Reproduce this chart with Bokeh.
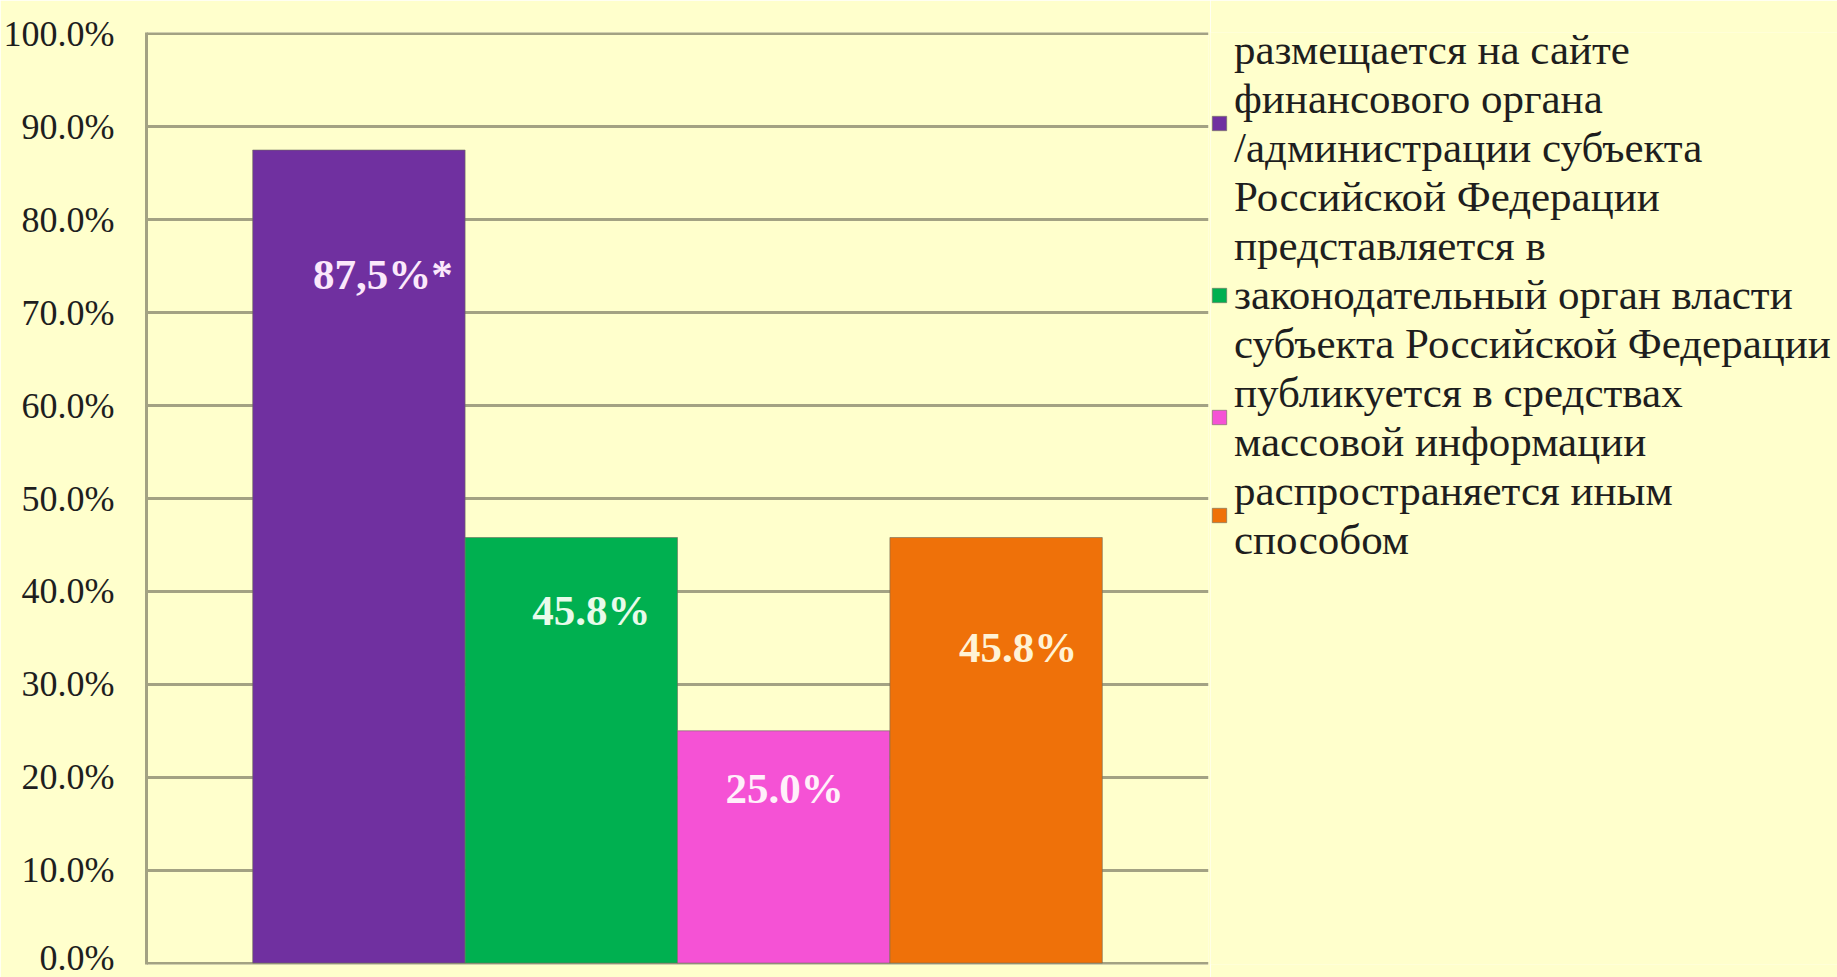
from bokeh.plotting import figure
from bokeh.layouts import row
from bokeh.models import ColumnDataSource, FixedTicker, Legend, LegendItem, Range1d
from bokeh.core.properties import value
from bokeh.embed import file_html
from bokeh.resources import INLINE

# ---- data ----
series = [
    "размещается на сайте\nфинансового органа\n/администрации субъекта\nРоссийской Федерации",
    "представляется в\nзаконодательный орган власти\nсубъекта Российской Федерации",
    "публикуется в средствах\nмассовой информации",
    "распространяется иным\nспособом",
]
values = [87.5, 45.8, 25.0, 45.8]
value_labels = ["87,5%*", "45.8%", "25.0%", "45.8%"]
colors = ["#7030A0", "#00B050", "#F552D5", "#EF7109"]
label_colors = ["#FBE8FB", "#E8FBEA", "#FFF0FA", "#FFF3D6"]
y_ticks = [0, 10, 20, 30, 40, 50, 60, 70, 80, 90, 100]
y_tick_labels = ["0.0%", "10.0%", "20.0%", "30.0%", "40.0%", "50.0%",
                 "60.0%", "70.0%", "80.0%", "90.0%", "100.0%"]

# label placement (style/layout)
label_y = [74.1, 38.0, 18.8, 34.0]
label_dx = [24, 20, 1, 22]

BG = "#FFFFCC"
GRID = "#A3A283"
FONT = "Liberation Serif"

xs = [i + 1 for i in range(len(values))]
src = ColumnDataSource(dict(x=xs, top=values, color=colors, lab=value_labels,
                            ly=label_y, dx=label_dx, lc=label_colors))

# ---- chart ----
p = figure(width=1210, height=977, output_backend="svg", toolbar_location=None,
           title=None, x_range=Range1d(0, 5), y_range=Range1d(-0.15, 100.15),
           min_border_left=143, min_border_right=2, min_border_top=32,
           min_border_bottom=13)
p.background_fill_color = BG
p.border_fill_color = BG
p.outline_line_color = None

bars = p.vbar(x="x", top="top", width=1.0, bottom=0, source=src,
              fill_color="color", line_color="#6E6E5E", line_width=1, line_alpha=0.6)

p.text(x="x", y="ly", text="lab", source=src, x_offset="dx",
       text_font=value(FONT), text_font_style="bold", text_font_size="43px",
       text_color="lc", text_align="center", text_baseline="middle")

p.xaxis.visible = False
p.yaxis.ticker = FixedTicker(ticks=y_ticks)
p.yaxis.major_label_overrides = {t: l for t, l in zip(y_ticks, y_tick_labels)}
p.yaxis.major_label_text_font = FONT
p.yaxis.major_label_text_font_size = "36px"
p.yaxis.major_label_text_color = "#1E1E1E"
p.yaxis.major_label_standoff = 26
p.yaxis.major_tick_line_color = None
p.yaxis.minor_tick_line_color = None
p.yaxis.axis_line_color = GRID
p.yaxis.axis_line_width = 3

p.xgrid.visible = False
p.ygrid.ticker = FixedTicker(ticks=y_ticks)
p.ygrid.grid_line_color = GRID
p.ygrid.grid_line_width = 3

# ---- legend panel ----
lp = figure(width=627, height=977, output_backend="svg", toolbar_location=None,
            title=None, x_range=Range1d(0, 5), y_range=Range1d(0, 100), min_border=0)
lp.background_fill_color = BG
lp.border_fill_color = BG
lp.outline_line_color = None
lp.axis.visible = False
lp.grid.visible = False
lbars = lp.vbar(x="x", top="top", width=1.0, bottom=0, source=src,
                fill_color="color", line_color="#6E6E5E", line_width=1, line_alpha=0.6)
lbars.visible = False

items = [LegendItem(label=s, renderers=[lbars], index=i) for i, s in enumerate(series)]
legend = Legend(items=items, location=(0, 400), orientation="vertical",
                glyph_width=18, glyph_height=18, label_standoff=6, spacing=0,
                padding=0, margin=0, background_fill_alpha=0, border_line_color=None,
                label_text_font=FONT, label_text_font_size="43px",
                label_text_color="#1E1E1E", label_text_line_height=1.14,
                click_policy="none")
lp.add_layout(legend, "center")

layout = row(p, lp, spacing=0)
open("out.html", "w").write(file_html(layout, INLINE))
